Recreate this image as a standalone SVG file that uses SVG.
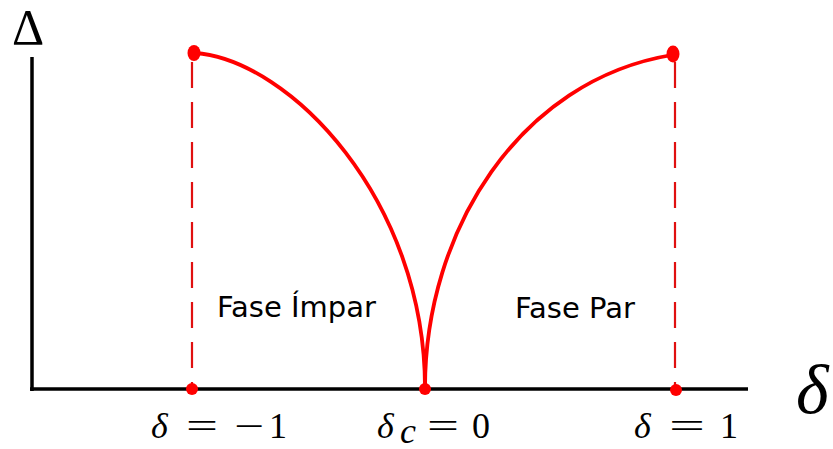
<svg xmlns="http://www.w3.org/2000/svg" width="833" height="449" viewBox="0 0 833 449">
<style>
.axis{stroke:#000;stroke-width:3.5;fill:none}
.curve{stroke:#f00;stroke-width:3.8;fill:none}
.dash{stroke:#e01010;stroke-width:2.2;fill:none;stroke-dasharray:26 14}
.dot{fill:#f00}
.lbl{font-family:"DejaVu Sans",sans-serif;font-size:29px;fill:#000}
.m{font-family:"Liberation Serif",serif;font-size:36px;fill:#000}
.mi{font-family:"Liberation Serif",serif;font-style:italic;font-size:36px;fill:#000}
</style>
<rect width="833" height="449" fill="#fff"/>
<g id="axes">
<line class="axis" x1="32" y1="57" x2="32" y2="391"/>
<line class="axis" x1="30" y1="389" x2="748" y2="389"/>
<text x="12" y="44" font-family="Liberation Serif, serif" font-size="50">Δ</text>
<text x="796" y="413" font-family="Liberation Serif, serif" font-style="italic" font-size="70">δ</text>
</g>
<g id="connectors">
<line class="dash" x1="192" y1="62" x2="192" y2="389"/>
<line class="dash" x1="675" y1="62" x2="675" y2="389"/>
<path class="curve" d="M195,53 C290,60 425,200 425,388"/>
<path class="curve" d="M425,388 C425,230 520,80 672,55"/>
</g>
<g id="points">
<ellipse class="dot" cx="194" cy="53" rx="6.5" ry="8"/>
<ellipse class="dot" cx="673" cy="54" rx="6.5" ry="8.5"/>
<circle class="dot" cx="192" cy="389" r="6"/>
<circle class="dot" cx="425" cy="389" r="6"/>
<circle class="dot" cx="676" cy="390" r="6"/>
</g>
<g id="phase-odd"><text class="lbl" x="217" y="317">Fase Ímpar</text></g>
<g id="phase-even"><text class="lbl" x="515" y="318">Fase Par</text></g>
<g id="label-m1">
<text class="mi" x="151" y="438">δ</text>
<text class="m" x="186" y="438" textLength="32" lengthAdjust="spacingAndGlyphs">=</text>
<text class="m" x="234" y="438" textLength="30" lengthAdjust="spacingAndGlyphs">−</text>
<text class="m" x="269" y="438">1</text>
</g>
<g id="label-c">
<text class="mi" x="377" y="438">δ</text>
<text class="mi" x="400" y="443" font-size="24">c</text>
<text class="m" x="427" y="438" textLength="32" lengthAdjust="spacingAndGlyphs">=</text>
<text class="m" x="472" y="438">0</text>
</g>
<g id="label-p1">
<text class="mi" x="634" y="438">δ</text>
<text class="m" x="669" y="438" textLength="36" lengthAdjust="spacingAndGlyphs">=</text>
<text class="m" x="720" y="438">1</text>
</g>
</svg>
